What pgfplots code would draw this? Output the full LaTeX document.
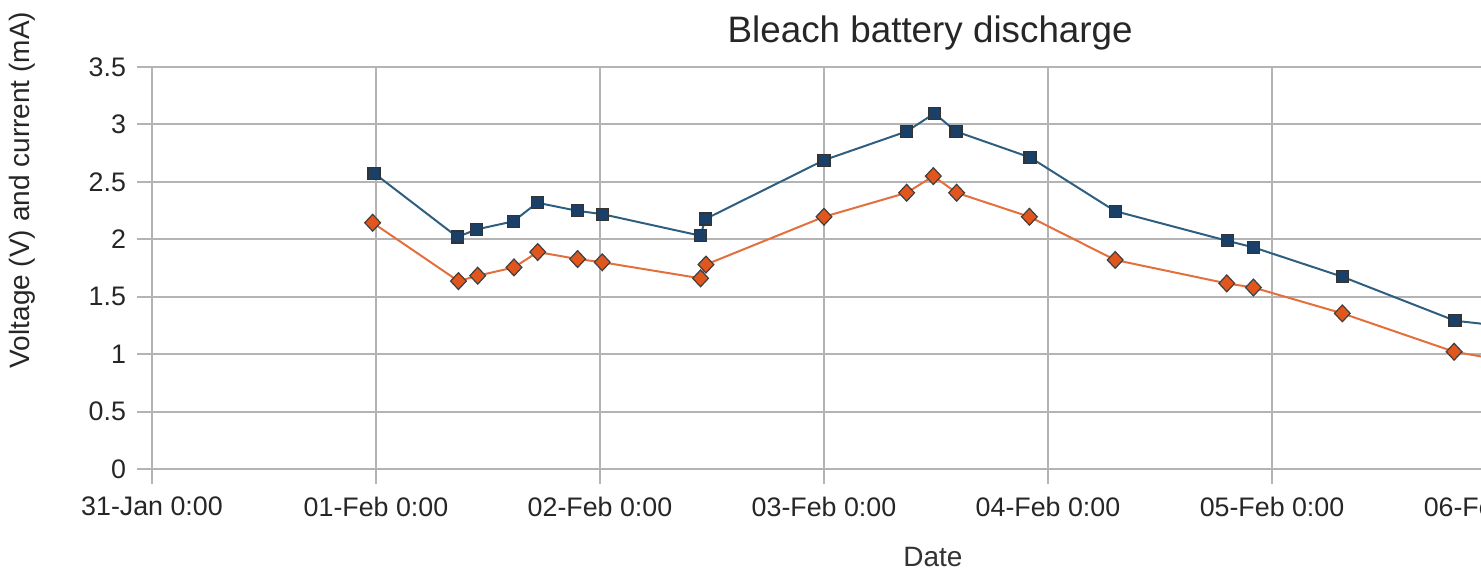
\documentclass[border=0pt]{standalone}
\usepackage{pgfplots}
\pgfplotsset{compat=1.18}
\usepackage{fontspec}
\setmainfont{Liberation Sans}
\definecolor{gridgray}{HTML}{B4B4B4}
\definecolor{vline}{HTML}{2E5F80}
\definecolor{vfill}{HTML}{1B4068}
\definecolor{oline}{HTML}{E3703C}
\definecolor{ofill}{HTML}{E0561C}
\begin{document}
\begin{tikzpicture}
\useasboundingbox (-76pt,-52.5pt) rectangle (664.5pt,234.5pt);
\begin{axis}[
  scale only axis,
  width=672pt, height=201pt,
  xmin=0, xmax=6, ymin=0, ymax=3.5,
  xtick={0,1,2,3,4,5,6},
  xticklabels={31-Jan 0:00,01-Feb 0:00,02-Feb 0:00,03-Feb 0:00,04-Feb 0:00,05-Feb 0:00,06-Feb 0:00},
  ytick={0,0.5,1,1.5,2,2.5,3,3.5},
  /pgf/number format/assume math mode=true,
  ticklabel style={font=\fontsize{13.4}{16}\selectfont, text=black!85},
  axis x line*=bottom, axis y line*=left,
  axis line style={draw=gridgray, line width=1pt, -},
  grid=major,
  major grid style={draw=gridgray, line width=1pt},
  tick style={draw=gridgray, line width=1pt},
  tick align=outside,
  major tick length=7.5pt,
  xticklabel style={yshift=-3pt},
  yticklabel style={xshift=-2pt},
  title={\fontsize{18.4}{22}\selectfont Bleach battery discharge},
  title style={at={(axis description cs:0.579,1.032)}, anchor=base, text=black!85},
  ylabel={\fontsize{14}{17}\selectfont Voltage (V) and current (mA)},
  ylabel style={at={(axis description cs:-0.0967,0.694)}, anchor=center, rotate=0, text=black!85},
  xlabel={\fontsize{14}{17}\selectfont Date},
  xlabel style={at={(axis description cs:0.581,-0.243)}, anchor=base, inner sep=0pt, text=black!80},
]
\addplot[color=vline, line width=1pt, mark=square*, mark size=3pt,
  mark options={fill=vfill, draw=black!80, line width=0.6pt}] table {
x y
0.991 2.576
1.363 2.020
1.449 2.086
1.613 2.156
1.720 2.318
1.899 2.248
2.010 2.219
2.449 2.031
2.470 2.176
3.000 2.689
3.369 2.939
3.493 3.096
3.589 2.939
3.920 2.713
4.300 2.245
4.800 1.987
4.917 1.930
5.314 1.674
5.817 1.291
6.050 1.240
};
\addplot[color=oline, line width=1pt, mark=diamond*, mark size=4.2pt,
  mark options={fill=ofill, draw=black!75, line width=0.6pt, xscale=1.25}] table {
x y
0.985 2.144
1.368 1.636
1.454 1.683
1.616 1.755
1.722 1.889
1.900 1.828
2.010 1.800
2.449 1.660
2.473 1.780
3.000 2.196
3.369 2.405
3.488 2.550
3.592 2.405
3.917 2.196
4.300 1.820
4.798 1.616
4.917 1.580
5.314 1.355
5.813 1.021
6.050 0.940
};
\end{axis}
\end{tikzpicture}
\end{document}
